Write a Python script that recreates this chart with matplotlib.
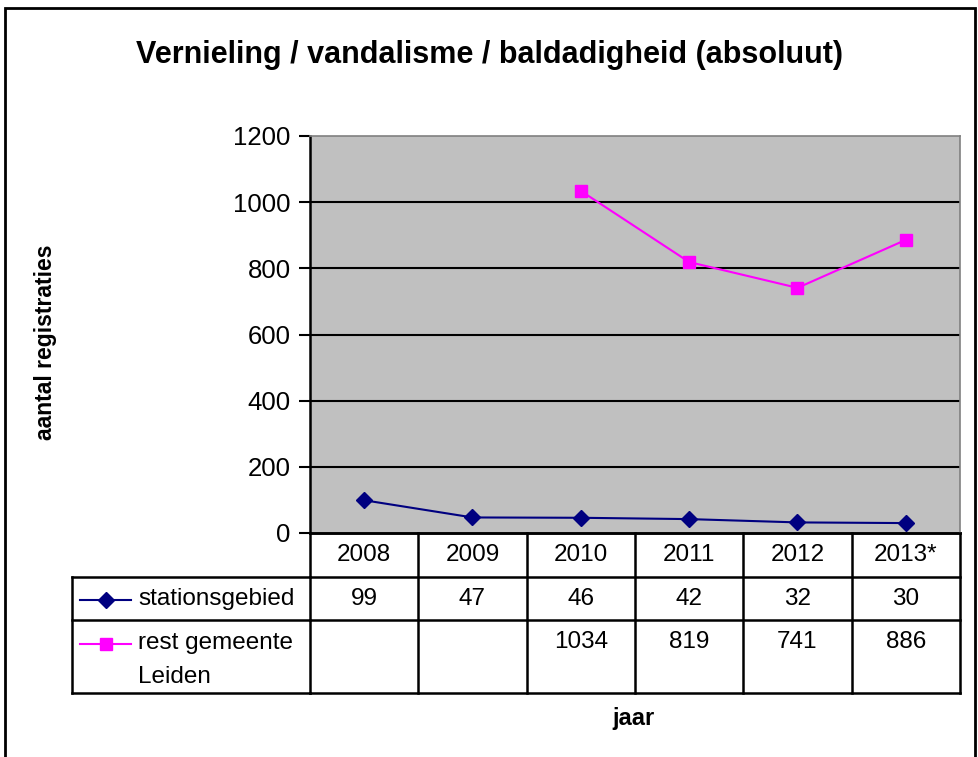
import matplotlib
matplotlib.use("Agg")
import matplotlib.pyplot as plt
import matplotlib.transforms as mtransforms
from matplotlib.lines import Line2D
from matplotlib.patches import Rectangle
import numpy as np

plt.rcParams['font.family'] = ['Liberation Sans', 'DejaVu Sans']

years = ["2008", "2009", "2010", "2011", "2012", "2013*"]
stationsgebied = [99, 47, 46, 42, 32, 30]
rest_leiden = [None, None, 1034, 819, 741, 886]
series_names = ["stationsgebied", "rest gemeente", "Leiden"]
title = "Vernieling / vandalisme / baldadigheid (absoluut)"
ylabel = "aantal registraties"
xlabel = "jaar"
yticks = [0, 200, 400, 600, 800, 1000, 1200]

W, H = 979, 757
fig = plt.figure(figsize=(W / 100, H / 100), dpi=100)

def fx(px):
    return px / W

def fy(py):
    return 1 - py / H

L, R, T, B = 310, 960, 136, 533
ax = fig.add_axes([fx(L), fy(B), fx(R) - fx(L), fy(T) - fy(B)])
ax.set_facecolor("#C0C0C0")

x = np.arange(len(years))
s1 = np.array(stationsgebied, dtype=float)
s2 = np.array([np.nan if v is None else v for v in rest_leiden], dtype=float)

for yv in yticks[1:-1]:
    ax.axhline(yv, color="black", lw=1.5, zorder=1)

ax.plot(x, s1, color="#000080", marker="D", markersize=8, lw=1.5, zorder=3)
ax.plot(x, s2, color="#FF00FF", marker="s", markersize=8, lw=1.5, zorder=3)

ax.set_xlim(-0.5, len(years) - 0.5)
ax.set_ylim(0, 1200)
ax.set_yticks(yticks)
ax.set_yticklabels([str(v) for v in yticks], fontsize=18.5)
ax.tick_params(axis="y", direction="out", length=8, width=1.5, pad=6)
ax.set_xticks([])
for side in ["left", "bottom"]:
    ax.spines[side].set_color("black")
    ax.spines[side].set_linewidth(1.8)
for side in ["top", "right"]:
    ax.spines[side].set_color("#808080")
    ax.spines[side].set_linewidth(1.2)

trans = mtransforms.blended_transform_factory(ax.transData, ax.transAxes)
ah = B - T

def ay(py):
    return (B - py) / ah

rows_px = [533, 577, 620, 693]
lw_t = 1.8
for py in rows_px:
    ax.add_line(Line2D([-0.5, len(years) - 0.5], [ay(py), ay(py)], transform=trans,
                       color="black", lw=lw_t, clip_on=False))
for i in range(len(years) + 1):
    xb = i - 0.5
    ax.add_line(Line2D([xb, xb], [ay(rows_px[0]), ay(rows_px[-1])], transform=trans,
                       color="black", lw=lw_t, clip_on=False))
lx0 = 72
for py in rows_px[1:]:
    fig.add_artist(Line2D([fx(lx0), fx(L)], [fy(py), fy(py)], transform=fig.transFigure,
                          color="black", lw=lw_t))
fig.add_artist(Line2D([fx(lx0), fx(lx0)], [fy(rows_px[1]), fy(rows_px[-1])],
                      transform=fig.transFigure, color="black", lw=lw_t))

fs_t = 17.5
for i, yr in enumerate(years):
    ax.text(i, ay(555), yr, transform=trans, ha="center", va="center", fontsize=fs_t)
    ax.text(i, ay(599), str(stationsgebied[i]), transform=trans, ha="center", va="center", fontsize=fs_t)
    if rest_leiden[i] is not None:
        ax.text(i, ay(642), str(rest_leiden[i]), transform=trans, ha="center", va="center", fontsize=fs_t)

fig.add_artist(Line2D([fx(80), fx(106), fx(131)], [fy(600)] * 3, transform=fig.transFigure,
                      color="#000080", lw=1.5, marker="D", markersize=8, markevery=[1]))
fig.add_artist(Line2D([fx(80), fx(106), fx(131)], [fy(644)] * 3, transform=fig.transFigure,
                      color="#FF00FF", lw=1.5, marker="s", markersize=8, markevery=[1]))
fig.text(fx(138), fy(599), series_names[0], ha="left", va="center", fontsize=fs_t)
fig.text(fx(138), fy(643), series_names[1], ha="left", va="center", fontsize=fs_t)
fig.text(fx(138), fy(677), series_names[2], ha="left", va="center", fontsize=fs_t)

fig.text(fx(490), fy(55), title, ha="center", va="center", fontsize=22, fontweight="bold")
fig.text(fx(46), fy(342), ylabel, ha="center", va="center", fontsize=16.5, fontweight="bold", rotation=90)
fig.text(fx(634), fy(718), xlabel, ha="center", va="center", fontsize=17, fontweight="bold")

fig.add_artist(Rectangle((fx(5), fy(780)), fx(970), fy(8) - fy(780), transform=fig.transFigure,
                         fill=False, edgecolor="black", lw=2))

fig.savefig("out.png", dpi=100, facecolor="white")
